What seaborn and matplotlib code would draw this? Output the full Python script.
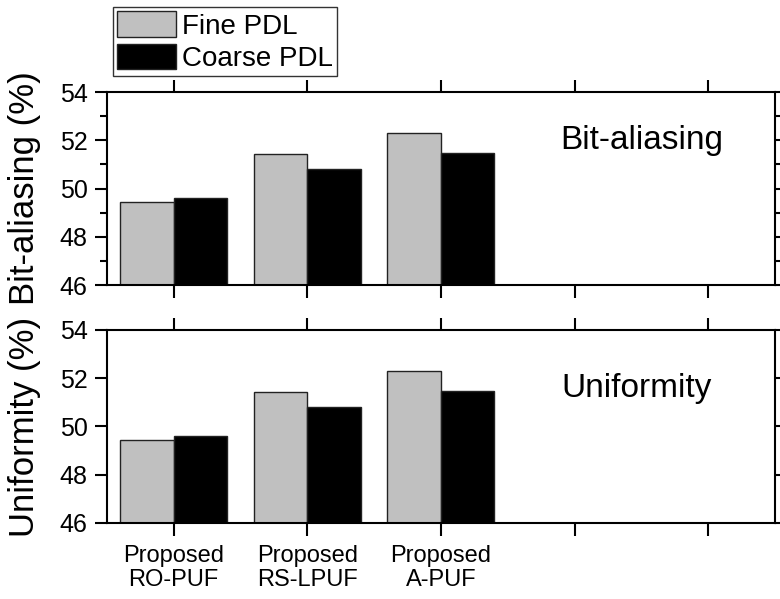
import numpy as np
import pandas as pd
import seaborn as sns
import matplotlib.pyplot as plt
from matplotlib.patches import Patch
from matplotlib.ticker import MultipleLocator

categories = ["Proposed\nRO-PUF", "Proposed\nRS-LPUF", "Proposed\nA-PUF"]
tick_labels = categories + ["", ""]
series = ["Fine PDL", "Coarse PDL"]
bit_fine = [49.45, 51.42, 52.29]
bit_coarse = [49.62, 50.82, 51.48]
uni_fine = [49.45, 51.42, 52.29]
uni_coarse = [49.62, 50.82, 51.48]

sns.set_style("ticks")
plt.rcParams['font.family'] = ['Liberation Sans', 'DejaVu Sans']
for k in ['text.color', 'axes.labelcolor', 'xtick.color', 'ytick.color', 'axes.edgecolor']:
    plt.rcParams[k] = 'black'

colors = {"Fine PDL": "#c0c0c0", "Coarse PDL": "#000000"}

def make_df(fine, coarse):
    return pd.DataFrame({
        "cat": categories * 2,
        "PDL": ["Fine PDL"] * 3 + ["Coarse PDL"] * 3,
        "val": fine + coarse,
    })

fig = plt.figure(figsize=(7.8, 5.99), dpi=100)
ax1 = fig.add_axes([0.137, 0.5242, 0.8566, 0.3222])
ax2 = fig.add_axes([0.137, 0.1269, 0.8566, 0.3222])

panels = [
    (ax1, make_df(bit_fine, bit_coarse), "Bit-aliasing (%)", "Bit-aliasing", 0.80, 0.705, True),
    (ax2, make_df(uni_fine, uni_coarse), "Uniformity (%)", "Uniformity", 0.793, 0.653, False),
]

for ax, df, ylab, tag, tx, ty, minor in panels:
    sns.barplot(data=df, x="cat", y="val", hue="PDL", order=categories,
                hue_order=series, palette=colors, width=0.8,
                edgecolor="#222222", linewidth=1, legend=False, ax=ax)
    ax.set_xlim(-0.5, 4.5)
    ax.set_ylim(46, 54)
    ax.set_xticks(range(5))
    ax.set_xticklabels(tick_labels, fontsize=17, linespacing=1.1)
    ax.yaxis.set_major_locator(MultipleLocator(2))
    if minor:
        ax.yaxis.set_minor_locator(MultipleLocator(1))
    ax.set_xlabel("")
    ax.set_ylabel(ylab, fontsize=25)
    ax.yaxis.set_label_coords(-0.099, 0.5)
    ax.tick_params(axis="both", which="major", direction="out", length=9, width=1.5,
                   labelsize=18, top=True, right=True, pad=5)
    ax.tick_params(axis="x", which="major", labelsize=17, pad=7)
    ax.tick_params(axis="y", which="minor", direction="out", length=5, width=1.5,
                   left=True, right=True)
    for s in ax.spines.values():
        s.set_visible(True)
        s.set_linewidth(1.5)
    ax.text(tx, ty, tag, transform=ax.transAxes, ha="center", va="baseline", fontsize=24)

ax1.tick_params(axis="x", labelbottom=False)

handles = [Patch(facecolor=colors[s], edgecolor="#222222", linewidth=1) for s in series]
leg = fig.legend(handles, series, loc="upper left", bbox_to_anchor=(113 / 780, 1 - 7 / 599),
                 bbox_transform=fig.transFigure, fontsize=20, frameon=True, fancybox=False,
                 handlelength=2.1, handleheight=1.05, handletextpad=0.25, labelspacing=0.15,
                 borderpad=0.15, borderaxespad=0)
leg.get_frame().set_edgecolor("black")
leg.get_frame().set_linewidth(1)

fig.savefig("out.png", dpi=100)
